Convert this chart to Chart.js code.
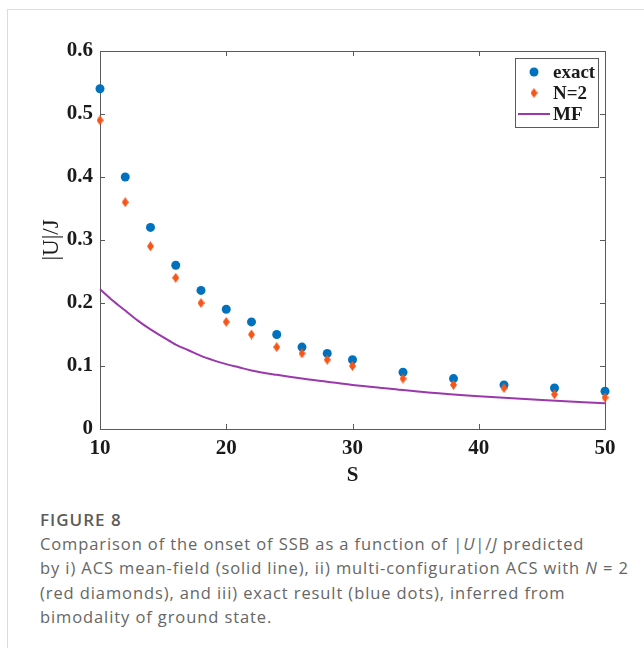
<!DOCTYPE html>
<html>
<head>
<meta charset="utf-8">
<script src="https://cdn.jsdelivr.net/npm/chart.js@4.4.1/dist/chart.umd.min.js"></script>
<style>
  body { margin: 0; background: #fff; width: 644px; height: 648px; overflow: hidden; position: relative; }
  #frame { position: absolute; left: 7px; top: 9px; width: 700px; height: 700px; border: 1px solid #dcdcdc; }
  #wrap { position: absolute; left: 0; top: 0; width: 644px; height: 490px; }
  #caption { position: absolute; left: 40px; top: 509px; font-family: "Open Sans", sans-serif; color: #666; white-space: nowrap; }
  #caption .fig { font-size: 17px; font-weight: 600; line-height: 22px; letter-spacing: 1px; color: #5c5c5c; }
  #caption .txt { font-size: 16.5px; line-height: 24.4px; letter-spacing: 0.9px; margin-top: 1px; }
</style>
</head>
<body>
<div id="frame"></div>
<div id="wrap"><canvas id="ssb-chart" width="644" height="490"></canvas></div>
<div id="caption">
  <div class="fig">FIGURE 8</div>
  <div class="txt">Comparison of the onset of SSB as a function of |<i>U</i>|/<i>J</i> predicted<br>by i) ACS mean-field (solid line), ii) multi-configuration ACS with <i>N</i> = 2<br>(red diamonds), and iii) exact result (blue dots), inferred from<br>bimodality of ground state.</div>
</div>
<script>
// S values where exact / N=2 were computed
const sPoints = [10, 12, 14, 16, 18, 20, 22, 24, 26, 28, 30, 34, 38, 42, 46, 50];
const exactVals = [0.54, 0.40, 0.32, 0.26, 0.22, 0.19, 0.17, 0.15, 0.13, 0.12, 0.11, 0.09, 0.08, 0.07, 0.065, 0.06];
const n2Vals = [0.49, 0.36, 0.29, 0.24, 0.20, 0.17, 0.15, 0.13, 0.12, 0.11, 0.10, 0.08, 0.07, 0.065, 0.055, 0.05];

// mean-field curve
const mfS = [10, 11, 12, 13, 14, 15, 16, 17, 18, 19, 20, 21, 22, 24, 26, 28, 30, 33, 36, 40, 45, 50];
const mfVals = [0.222, 0.204, 0.188, 0.172, 0.158, 0.146, 0.134, 0.125, 0.116, 0.109, 0.103, 0.098, 0.093, 0.086, 0.080, 0.075, 0.070, 0.064, 0.058, 0.052, 0.046, 0.041];

const xTicks = [10, 20, 30, 40, 50];
const yTicks = [0, 0.1, 0.2, 0.3, 0.4, 0.5, 0.6];

const BLUE = "#0072BD";
const ORANGE = "#F5561B";
const PURPLE = "#9A38AC";
const SERIF = '"Liberation Serif", "Times New Roman", serif';

// MATLAB style tall diamond
function makeDiamond(w, h, col) {
  const c = document.createElement("canvas");
  c.width = w;
  c.height = h;
  const g = c.getContext("2d");
  g.fillStyle = col;
  g.beginPath();
  g.moveTo(w / 2, 0);
  g.lineTo(w, h / 2);
  g.lineTo(w / 2, h);
  g.lineTo(0, h / 2);
  g.closePath();
  g.fill();
  return c;
}
const diamond = makeDiamond(7, 10, ORANGE);

const toXY = (xs, ys) => xs.map((x, i) => ({ x: x, y: ys[i] }));

// box around the axes with inward ticks on all four sides, and the legend
const boxPlugin = {
  id: "box",
  beforeDatasetsDraw(chart) {
    const { ctx, chartArea: a, scales } = chart;
    ctx.save();
    ctx.strokeStyle = "#5a5a5a";
    ctx.lineWidth = 1;
    ctx.strokeRect(a.left + 0.5, a.top + 0.5, a.right - a.left, a.bottom - a.top);
    const tl = 5;
    ctx.beginPath();
    xTicks.forEach((v) => {
      const px = Math.round(scales.x.getPixelForValue(v)) + 0.5;
      ctx.moveTo(px, a.bottom);
      ctx.lineTo(px, a.bottom - tl);
      ctx.moveTo(px, a.top);
      ctx.lineTo(px, a.top + tl);
    });
    yTicks.forEach((v) => {
      const py = Math.round(scales.y.getPixelForValue(v)) + 0.5;
      ctx.moveTo(a.left, py);
      ctx.lineTo(a.left + tl, py);
      ctx.moveTo(a.right, py);
      ctx.lineTo(a.right - tl, py);
    });
    ctx.stroke();
    ctx.restore();
  },
  afterDatasetsDraw(chart) {
    const { ctx } = chart;
    const ds = chart.data.datasets;
    const bx = 515, by = 58, bw = 83, bh = 69;
    ctx.save();
    ctx.fillStyle = "#fff";
    ctx.fillRect(bx, by, bw, bh);
    ctx.strokeStyle = "#5a5a5a";
    ctx.lineWidth = 1;
    ctx.strokeRect(bx + 0.5, by + 0.5, bw, bh);
    const rows = [72, 93, 114];
    ctx.font = "bold 19px " + SERIF;
    ctx.textBaseline = "middle";
    ds.forEach((d, i) => {
      const y = rows[i];
      if (i === 0) {
        ctx.fillStyle = BLUE;
        ctx.beginPath();
        ctx.arc(534, y, 4.5, 0, Math.PI * 2);
        ctx.fill();
      } else if (i === 1) {
        ctx.drawImage(diamond, 534 - 3.5, y - 5);
      } else {
        ctx.strokeStyle = PURPLE;
        ctx.lineWidth = 2;
        ctx.beginPath();
        ctx.moveTo(518, y);
        ctx.lineTo(550, y);
        ctx.stroke();
      }
      ctx.fillStyle = "#1a1a1a";
      ctx.fillText(d.label, 553, y + 1);
    });
    ctx.restore();
  },
};

const chart = new Chart("ssb-chart", {
  type: "scatter",
  data: {
    datasets: [
      {
        label: "exact",
        data: toXY(sPoints, exactVals),
        backgroundColor: BLUE,
        borderColor: BLUE,
        pointRadius: 4.5,
        pointStyle: "circle",
        borderWidth: 0,
        clip: false,
        order: 2,
      },
      {
        label: "N=2",
        data: toXY(sPoints, n2Vals),
        pointStyle: diamond,
        clip: false,
        order: 1,
      },
      {
        label: "MF",
        type: "line",
        data: toXY(mfS, mfVals),
        borderColor: PURPLE,
        borderWidth: 2,
        pointRadius: 0,
        fill: false,
        cubicInterpolationMode: "monotone",
        clip: false,
        order: 3,
      },
    ],
  },
  options: {
    responsive: false,
    animation: false,
    events: [],
    layout: { padding: { left: 0, top: 51, right: 39, bottom: 0 } },
    plugins: { legend: { display: false }, tooltip: { enabled: false } },
    scales: {
      x: {
        type: "linear",
        min: 10,
        max: 50,
        afterFit(scale) { scale.height = 61; },
        afterBuildTicks(scale) { scale.ticks = xTicks.map((v) => ({ value: v })); },
        grid: { display: false, drawTicks: false },
        border: { display: false },
        ticks: {
          padding: 7,
          color: "#1a1a1a",
          font: { family: SERIF, size: 21, weight: "bold" },
          callback: (v) => String(v),
        },
        title: {
          display: true,
          text: "S",
          color: "#1a1a1a",
          padding: { top: 0, bottom: 2 },
          font: { family: SERIF, size: 21, weight: "bold" },
        },
      },
      y: {
        type: "linear",
        min: 0,
        max: 0.6,
        afterFit(scale) { scale.width = 100; },
        afterBuildTicks(scale) { scale.ticks = yTicks.map((v) => ({ value: v })); },
        grid: { display: false, drawTicks: false },
        border: { display: false },
        ticks: {
          padding: 7,
          color: "#1a1a1a",
          font: { family: SERIF, size: 21, weight: "bold" },
          callback: (v) => String(+v.toFixed(1)),
        },
        title: {
          display: true,
          text: "|U|/J",
          color: "#1a1a1a",
          padding: { top: 38, bottom: 0 },
          font: { family: SERIF, size: 23, weight: "normal" },
        },
      },
    },
  },
  plugins: [boxPlugin],
});
</script>
</body>
</html>
